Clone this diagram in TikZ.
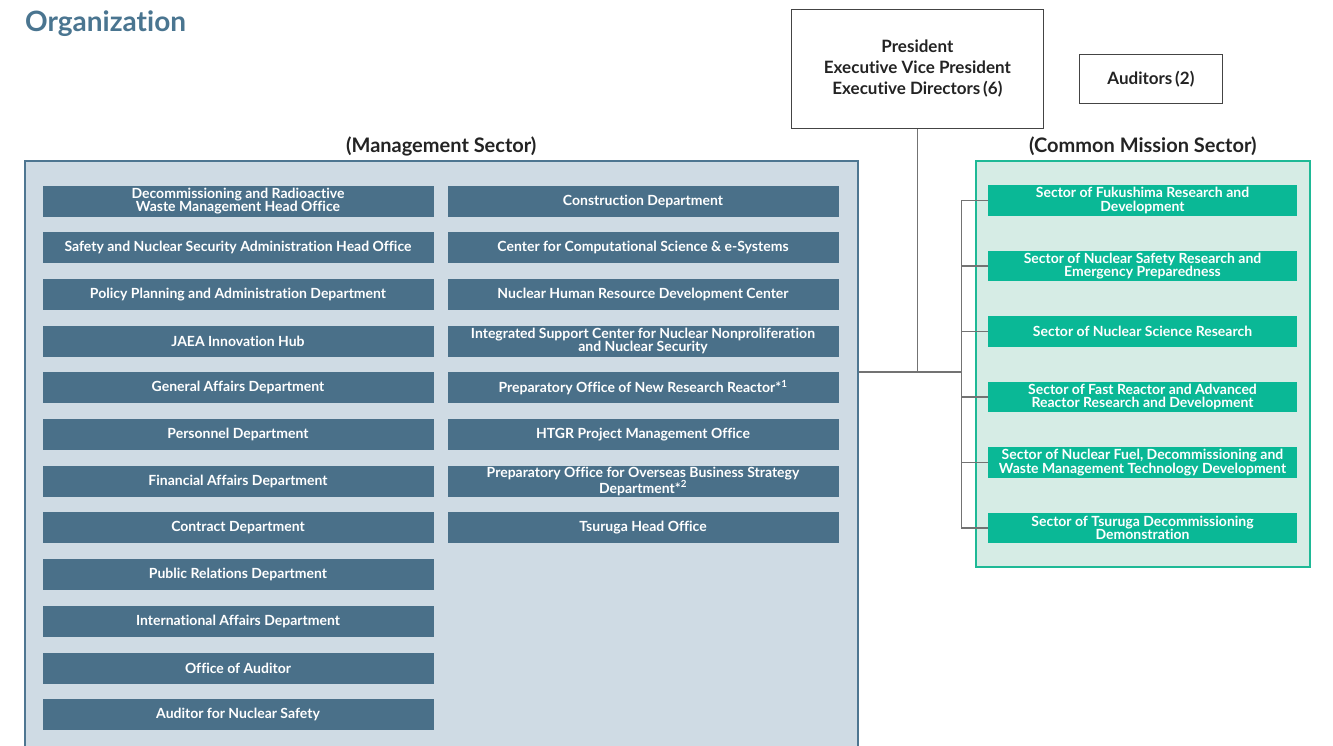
\documentclass[tikz,border=0pt]{standalone}
\usepackage{fontspec}
\setmainfont{Lato}[Ligatures=NoCommon]
\usetikzlibrary{positioning}
\definecolor{deptblue}{RGB}{74,112,137}
\definecolor{mgmtbg}{RGB}{207,219,228}
\definecolor{mgmtline}{RGB}{78,118,145}
\definecolor{missteal}{RGB}{10,184,150}
\definecolor{missbg}{RGB}{214,236,229}
\definecolor{missline}{RGB}{30,185,150}
\definecolor{titleblue}{RGB}{74,117,144}
\definecolor{inkgray}{RGB}{35,35,35}

\begin{document}
\begin{tikzpicture}[x=1pt, y=-1pt,
    dept/.style={fill=deptblue, text=white, align=center, inner sep=0pt, outer sep=0pt,
        font=\bfseries\fontsize{14}{13.5}\selectfont,
        minimum width=391pt, minimum height=31pt},
    mission/.style={fill=missteal, text=white, align=center, inner sep=0pt, outer sep=0pt,
        font=\bfseries\fontsize{14}{13.5}\selectfont,
        minimum width=309pt, minimum height=30.5pt},
    head/.style={text=inkgray, font=\bfseries\fontsize{20}{22}\selectfont, inner sep=0pt},
    topbox/.style={draw=inkgray!85, line width=0.8pt, text=inkgray, align=center,
        font=\bfseries\fontsize{17}{21}\selectfont},
    link/.style={draw=black!55, line width=1.3pt}
]
    \useasboundingbox (0,0) rectangle (1333,745);

    \node[anchor=west, text=titleblue, font=\bfseries\fontsize{28}{30}\selectfont, inner sep=0pt]
        (title) at (25,24) {Organization};

    % top management
    \node[topbox, minimum width=252pt, minimum height=119pt, anchor=north west] (pres) at (791,9)
        {President\\Executive Vice President\\Executive Directors\,(6)};
    \node[topbox, minimum width=143pt, minimum height=49pt, anchor=north west] (aud) at (1079,54)
        {Auditors\,(2)};

    % sector frames
    \node[fill=mgmtbg, draw=mgmtline, line width=1.5pt, minimum width=833pt, minimum height=620pt,
        anchor=north west] (mgmt) at (24,160) {};
    \node[fill=missbg, draw=missline, line width=1.5pt, minimum width=334pt, minimum height=406pt,
        anchor=north west] (miss) at (975,160) {};
    \node[head, above=4pt of mgmt] (mhead) {(Management Sector)};
    \node[head, above=4pt of miss] (chead) {(Common Mission Sector)};

    % management sector, left column
    \node[dept] (decom) at (238,201) {Decommissioning and Radioactive\\Waste Management Head Office};
    \node[dept, below=15.7pt of decom] (safety) {Safety and Nuclear Security Administration Head Office};
    \node[dept, below=15.7pt of safety] (policy) {Policy Planning and Administration Department};
    \node[dept, below=15.7pt of policy] (innov) {JAEA Innovation Hub};
    \node[dept, below=15.7pt of innov] (general) {General Affairs Department};
    \node[dept, below=15.7pt of general] (person) {Personnel Department};
    \node[dept, below=15.7pt of person] (finance) {Financial Affairs Department};
    \node[dept, below=15.7pt of finance] (contract) {Contract Department};
    \node[dept, below=15.7pt of contract] (public) {Public Relations Department};
    \node[dept, below=15.7pt of public] (intl) {International Affairs Department};
    \node[dept, below=15.7pt of intl] (audoff) {Office of Auditor};
    \node[dept, below=15.7pt of audoff] (audsafe) {Auditor for Nuclear Safety};

    % management sector, right column
    \node[dept, right=14pt of decom] (constr) {Construction Department};
    \node[dept, below=15.7pt of constr] (ccse) {Center for Computational Science \& e-Systems};
    \node[dept, below=15.7pt of ccse] (hrd) {Nuclear Human Resource Development Center};
    \node[dept, below=15.7pt of hrd] (iscn) {Integrated Support Center for Nuclear Nonproliferation\\and Nuclear Security};
    \node[dept, below=15.7pt of iscn] (newrr) {Preparatory Office of New Research Reactor*\textsuperscript{1}};
    \node[dept, below=15.7pt of newrr] (htgr) {HTGR Project Management Office};
    \node[dept, below=15.7pt of htgr] (overseas) {Preparatory Office for Overseas Business Strategy\\Department*\textsuperscript{2}};
    \node[dept, below=15.7pt of overseas] (tsuruga) {Tsuruga Head Office};

    % common mission sector
    \node[mission] (fuku) at (1142.5,200.5) {Sector of Fukushima Research and\\Development};
    \node[mission, below=35pt of fuku] (safeepr) {Sector of Nuclear Safety Research and\\Emergency Preparedness};
    \node[mission, below=35pt of safeepr] (science) {Sector of Nuclear Science Research};
    \node[mission, below=35pt of science] (fast) {Sector of Fast Reactor and Advanced\\Reactor Research and Development};
    \node[mission, below=35pt of fast] (fuel) {Sector of Nuclear Fuel, Decommissioning and\\Waste Management Technology Development};
    \node[mission, below=35pt of fuel] (tsudemo) {Sector of Tsuruga Decommissioning\\Demonstration};

    % connectors
    \coordinate (hub) at (pres.south |- 0,372);
    \coordinate (trunk) at (961.5,372);
    \draw[link] (pres.south) -- (hub);
    \draw[link] (mgmt.east |- hub) -- (trunk);
    \draw[link] (fuku.west) -- (fuku.west -| trunk) -- (tsudemo.west -| trunk) -- (tsudemo.west);
    \draw[link] (safeepr.west) -- (safeepr.west -| trunk);
    \draw[link] (science.west) -- (science.west -| trunk);
    \draw[link] (fast.west) -- (fast.west -| trunk);
    \draw[link] (fuel.west) -- (fuel.west -| trunk);
\end{tikzpicture}
\end{document}
